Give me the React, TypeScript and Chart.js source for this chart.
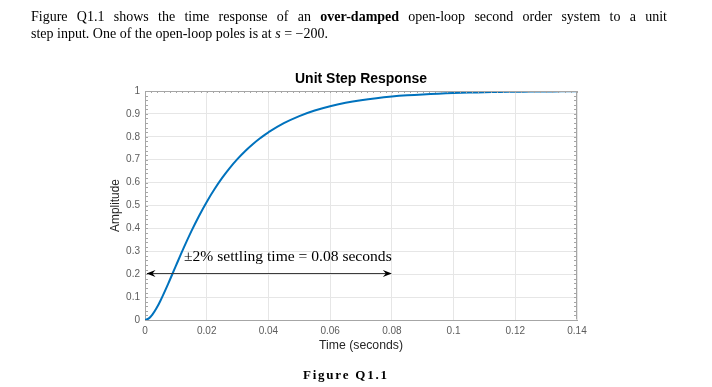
import React, { useEffect, useRef } from 'react';
import { Chart, registerables } from 'chart.js';

Chart.register(...registerables);

// ---- data ----
const timeSeconds = [0, 0.00125, 0.0025, 0.00375, 0.005, 0.0075, 0.01, 0.0125, 0.015, 0.0175, 0.02, 0.0225, 0.025, 0.0275, 0.03, 0.0325, 0.035, 0.0375, 0.04, 0.045, 0.05, 0.055, 0.06, 0.065, 0.07, 0.075, 0.08, 0.085, 0.09, 0.095, 0.1, 0.105, 0.11, 0.115, 0.12, 0.125, 0.13, 0.135, 0.14];
const amplitude = [0, 0.0071, 0.0255, 0.0520, 0.0842, 0.1580, 0.2363, 0.3137, 0.3868, 0.4543, 0.5156, 0.5708, 0.6203, 0.6643, 0.7033, 0.7380, 0.7686, 0.7957, 0.8197, 0.8595, 0.8906, 0.9148, 0.9336, 0.9483, 0.9597, 0.9686, 0.9756, 0.9810, 0.9852, 0.9885, 0.9910, 0.9930, 0.9945, 0.9958, 0.9967, 0.9974, 0.9980, 0.9984, 0.9988];

const xTicks = [0, 0.02, 0.04, 0.06, 0.08, 0.1, 0.12, 0.14];
const xTickLabels = ['0', '0.02', '0.04', '0.06', '0.08', '0.1', '0.12', '0.14'];
const yTicks = [0, 0.1, 0.2, 0.3, 0.4, 0.5, 0.6, 0.7, 0.8, 0.9, 1];
const yTickLabels = ['0', '0.1', '0.2', '0.3', '0.4', '0.5', '0.6', '0.7', '0.8', '0.9', '1'];

const settlingTime = 0.08;
const arrowLevel = 0.2;

const titleText = 'Unit Step Response';
const xLabelText = 'Time (seconds)';
const yLabelText = 'Amplitude';
const annotationText = '\u00B12% settling time = 0.08 seconds';
const captionText = 'Figure Q1.1';

const paragraphLine1 = [
  { text: 'Figure Q1.1 shows the time response of an', bold: false, italic: false },
  { text: 'over-damped', bold: true, italic: false },
  { text: 'open-loop second order system to a unit', bold: false, italic: false },
];
const paragraphLine2 = [
  { text: 'step input. One of the open-loop poles is at ', bold: false, italic: false },
  { text: 's', bold: false, italic: true },
  { text: ' = \u2212200.', bold: false, italic: false },
];

const SERIF = '"Liberation Serif", "DejaVu Serif", serif';
const SANS = '"Liberation Sans", Arial, sans-serif';

function fitFont(ctx: CanvasRenderingContext2D, text: string, weight: string, family: string, target: number) {
  ctx.font = `${weight} 100px ${family}`;
  const w = ctx.measureText(text).width;
  return (100 * target) / w;
}

function fontStr(size: number, bold: boolean, italic: boolean, family: string) {
  return `${italic ? 'italic ' : ''}${bold ? 'bold ' : ''}${size}px ${family}`;
}

const decorPlugin = {
  id: 'matlabDecor',
  beforeDraw(chart: any) {
    const ctx = chart.ctx as CanvasRenderingContext2D;
    ctx.save();
    ctx.fillStyle = '#ffffff';
    ctx.fillRect(0, 0, chart.width, chart.height);
    ctx.restore();
  },
  afterDraw(chart: any) {
    const ctx = chart.ctx as CanvasRenderingContext2D;
    const ca = chart.chartArea;
    const xs = chart.scales.x;
    const ys = chart.scales.y;
    ctx.save();

    // box top/right
    ctx.strokeStyle = '#a6a6a6';
    ctx.lineWidth = 1;
    ctx.beginPath();
    ctx.moveTo(Math.round(ca.left) + 0.5, Math.round(ca.top) + 0.5);
    ctx.lineTo(Math.round(ca.right) - 0.5, Math.round(ca.top) + 0.5);
    ctx.lineTo(Math.round(ca.right) - 0.5, Math.round(ca.bottom) - 0.5);
    ctx.stroke();

    // minor ticks y (left & right)
    ctx.beginPath();
    for (let i = 0; i <= 50; i++) {
      const v = i * 0.02;
      const py = Math.round(ys.getPixelForValue(v)) + 0.5;
      ctx.moveTo(ca.left, py);
      ctx.lineTo(ca.left + 3, py);
      ctx.moveTo(ca.right, py);
      ctx.lineTo(ca.right - 3, py);
    }
    // minor ticks x along top
    for (let i = 0; i <= 70; i++) {
      const v = i * 0.002;
      const px = Math.round(xs.getPixelForValue(v)) + 0.5;
      ctx.moveTo(px, ca.top);
      ctx.lineTo(px, ca.top + 2);
    }
    ctx.stroke();

    // annotation arrow
    const ay = Math.round(ys.getPixelForValue(arrowLevel)) - 0.5;
    const ax0 = xs.getPixelForValue(0);
    const ax1 = xs.getPixelForValue(settlingTime);
    ctx.strokeStyle = '#3c3c3c';
    ctx.lineWidth = 1;
    ctx.beginPath();
    ctx.moveTo(ax0 + 2, ay);
    ctx.lineTo(ax1 - 2, ay);
    ctx.stroke();
    ctx.fillStyle = '#000000';
    const head = (tipX: number, dir: number) => {
      ctx.beginPath();
      ctx.moveTo(tipX, ay);
      ctx.lineTo(tipX - dir * 9, ay - 3.5);
      ctx.lineTo(tipX - dir * 6, ay);
      ctx.lineTo(tipX - dir * 9, ay + 3.5);
      ctx.closePath();
      ctx.fill();
    };
    head(ax0 + 1.5, -1);
    head(ax1, 1);

    // annotation text
    const annX = ax0 + 39;
    const annFs = fitFont(ctx, annotationText, 'normal', SERIF, ax1 - annX);
    ctx.font = fontStr(annFs, false, false, SERIF);
    ctx.fillStyle = '#000000';
    ctx.textAlign = 'left';
    ctx.textBaseline = 'middle';
    ctx.fillText(annotationText, annX, ay - 16.5);

    // title
    const cx = (ca.left + ca.right) / 2;
    const tFs = fitFont(ctx, titleText, 'bold', SANS, 132);
    ctx.font = fontStr(tFs, true, false, SANS);
    ctx.fillStyle = '#000000';
    ctx.textAlign = 'center';
    ctx.textBaseline = 'middle';
    ctx.fillText(titleText, cx, ca.top - 12);

    // axis labels
    const xlFs = fitFont(ctx, xLabelText, 'normal', SANS, 84);
    ctx.font = fontStr(xlFs, false, false, SANS);
    ctx.fillStyle = '#262626';
    ctx.fillText(xLabelText, cx, ca.bottom + 26);

    const ylFs = fitFont(ctx, yLabelText, 'normal', SANS, 53);
    ctx.font = fontStr(ylFs, false, false, SANS);
    ctx.save();
    ctx.translate(116, (ca.top + ca.bottom) / 2);
    ctx.rotate(-Math.PI / 2);
    ctx.fillText(yLabelText, 0, 0);
    ctx.restore();

    // caption (bold, letter-spaced serif)
    const capFs = 13;
    ctx.font = fontStr(capFs, true, false, SERIF);
    const chars = captionText.split('');
    const natural = chars.reduce((s, c) => s + ctx.measureText(c).width, 0);
    const capTarget = 84;
    const spacing = (capTarget - natural) / (chars.length - 1);
    let px = 345 - capTarget / 2;
    ctx.textAlign = 'left';
    ctx.fillStyle = '#000000';
    for (const c of chars) {
      ctx.fillText(c, px, 376);
      px += ctx.measureText(c).width + spacing;
    }

    // paragraph line 2 (natural spacing, fitted size)
    const l2Target = 297;
    let l2w = 0;
    for (const seg of paragraphLine2) {
      ctx.font = fontStr(100, seg.bold, seg.italic, SERIF);
      l2w += ctx.measureText(seg.text).width;
    }
    const pFs = (100 * l2Target) / l2w;
    ctx.textBaseline = 'alphabetic';
    let x2 = 31;
    for (const seg of paragraphLine2) {
      ctx.font = fontStr(pFs, seg.bold, seg.italic, SERIF);
      ctx.fillText(seg.text, x2, 38);
      x2 += ctx.measureText(seg.text).width;
    }

    // paragraph line 1 (justified)
    const words: { w: string; bold: boolean; italic: boolean }[] = [];
    for (const seg of paragraphLine1) {
      for (const w of seg.text.split(' ')) if (w) words.push({ w, bold: seg.bold, italic: seg.italic });
    }
    let sum = 0;
    const widths = words.map((wd) => {
      ctx.font = fontStr(pFs, wd.bold, wd.italic, SERIF);
      const m = ctx.measureText(wd.w).width;
      sum += m;
      return m;
    });
    const gap = (667 - 31 - sum) / (words.length - 1);
    let x1 = 31;
    words.forEach((wd, i) => {
      ctx.font = fontStr(pFs, wd.bold, wd.italic, SERIF);
      ctx.fillText(wd.w, x1, 21);
      x1 += widths[i] + gap;
    });

    ctx.restore();
  },
};

export default function App() {
  const ref = useRef<HTMLCanvasElement | null>(null);
  useEffect(() => {
    document.body.style.margin = '0';
    const canvas = ref.current;
    if (!canvas) return;
    const chart = new Chart(canvas, {
      type: 'line',
      data: {
        datasets: [
          {
            label: 'Step response',
            data: timeSeconds.map((t, i) => ({ x: t, y: amplitude[i] })),
            borderColor: '#0072BD',
            borderWidth: 2,
            pointRadius: 0,
            fill: false,
            tension: 0.4,
          },
        ],
      },
      options: {
        responsive: false,
        animation: false,
        devicePixelRatio: 1,
        layout: { padding: { left: 0, top: 91, right: 135, bottom: 0 } },
        plugins: { legend: { display: false }, tooltip: { enabled: false }, title: { display: false } },
        scales: {
          x: {
            type: 'linear',
            min: 0,
            max: 0.14,
            afterFit: (s: any) => { s.height = 67; },
            afterBuildTicks: (s: any) => { s.ticks = xTicks.map((v) => ({ value: v })); },
            ticks: {
              callback: (_v: any, i: number) => xTickLabels[i],
              font: { family: SANS, size: 10 },
              color: '#5c5c5c',
              padding: 5,
              maxRotation: 0,
            },
            grid: { color: '#e6e6e6', drawTicks: false },
            border: { display: true, color: '#a6a6a6' },
          },
          y: {
            type: 'linear',
            min: 0,
            max: 1,
            afterFit: (s: any) => { s.width = 145; },
            afterBuildTicks: (s: any) => { s.ticks = yTicks.map((v) => ({ value: v })); },
            ticks: {
              callback: (_v: any, i: number) => yTickLabels[i],
              font: { family: SANS, size: 10 },
              color: '#5c5c5c',
              padding: 5,
            },
            grid: { color: '#e6e6e6', drawTicks: false },
            border: { display: true, color: '#a6a6a6' },
          },
        },
      },
      plugins: [decorPlugin],
    } as any);
    return () => chart.destroy();
  }, []);
  return (
    <div style={{ position: 'fixed', left: 0, top: 0, width: 712, height: 387, background: '#fff' }}>
      <canvas ref={ref} width={712} height={387} />
    </div>
  );
}
